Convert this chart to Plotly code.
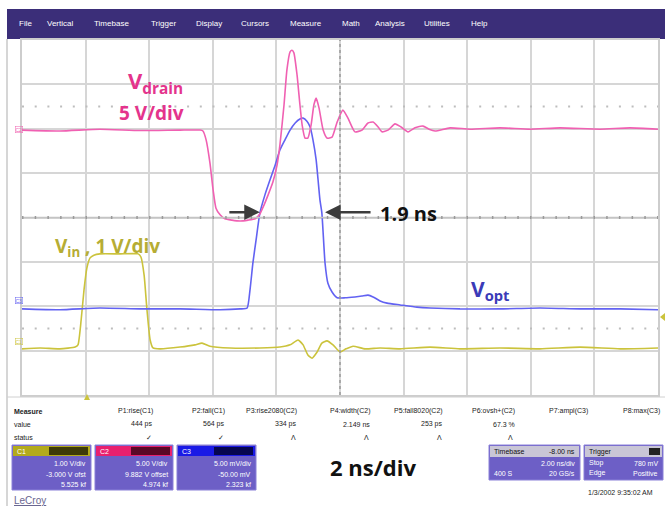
import plotly.graph_objects as go

# ---------------- data (time in ns, amplitude in screen divisions) ----------------
t_drain = [0.00, 1.19, 2.45, 3.71, 4.97, 5.60, 5.69, 5.79, 5.91, 6.01, 6.10, 6.23, 6.38, 6.60,
           6.86, 7.11, 7.33, 7.48, 7.61, 7.74, 7.89, 8.02, 8.11, 8.24, 8.33, 8.43, 8.49, 8.55,
           8.65, 8.74, 8.81, 8.90, 8.99, 9.09, 9.18, 9.25, 9.34, 9.47, 9.59, 9.75, 9.91, 10.09,
           10.25, 10.47, 10.69, 10.88, 11.04, 11.20, 11.32, 11.51, 11.73, 11.92, 12.14, 12.36,
           12.61, 12.80, 12.99, 13.46, 14.09, 15.03, 15.97, 16.92, 18.18, 19.12, 20.00]
v_drain = [5.97, 5.95, 5.99, 5.96, 5.97, 5.97, 5.95, 5.75, 5.23, 4.62, 4.21, 4.06, 3.97, 3.94,
           3.92, 3.94, 3.97, 4.08, 4.28, 4.51, 4.80, 5.18, 5.63, 6.54, 7.32, 7.73, 7.77, 7.71,
           7.21, 6.54, 6.08, 5.79, 5.79, 6.08, 6.54, 6.69, 6.47, 5.97, 5.79, 5.81, 6.15, 6.42,
           6.24, 5.93, 5.97, 6.13, 6.15, 6.04, 5.93, 5.97, 6.11, 6.04, 5.93, 6.02,
           6.06, 5.99, 5.95, 6.02, 5.99, 6.02, 5.99, 6.02, 5.99, 6.02, 5.99]

t_opt = [0.00, 1.19, 2.45, 3.71, 4.97, 6.23, 6.86, 7.08, 7.17, 7.26, 7.36, 7.48, 7.64, 7.80,
         7.96, 8.11, 8.27, 8.43, 8.59, 8.74, 8.84, 8.96, 9.06, 9.15, 9.25, 9.31, 9.37, 9.43,
         9.53, 9.62, 9.75, 9.91, 10.16, 10.47, 10.69, 10.88, 11.04, 11.26, 11.48, 11.89, 12.42,
         12.83, 13.77, 15.03, 16.29, 17.55, 18.81, 20.00]
v_opt = [1.94, 1.92, 1.96, 1.94, 1.94, 1.92, 1.94, 1.96, 2.37, 2.97, 3.49, 4.10, 4.51, 4.85,
         5.18, 5.52, 5.75, 5.97, 6.13, 6.22, 6.24, 6.17, 6.04, 5.75, 5.30, 4.85, 4.39, 4.10,
         2.97, 2.52, 2.32, 2.19, 2.19, 2.21, 2.23, 2.25, 2.21, 2.12, 2.07, 2.03, 1.98,
         1.96, 1.94, 1.94, 1.96, 1.94, 1.94, 1.92]

t_in = [0.00, 0.57, 1.19, 1.67, 1.76, 1.86, 1.95, 2.04, 2.14, 2.26, 2.45, 3.08, 3.65, 3.74,
        3.84, 3.93, 4.03, 4.12, 4.34, 4.97, 5.44, 5.66, 5.91, 6.54, 7.48, 8.11, 8.43, 8.68,
        8.84, 8.99, 9.12, 9.28, 9.43, 9.59, 9.78, 10.00, 10.19, 10.41, 10.79, 11.26, 11.89,
        12.83, 13.77, 15.03, 16.29, 17.55, 18.81, 20.00]
v_in = [1.04, 1.06, 1.04, 1.08, 1.13, 1.69, 2.37, 2.86, 3.09, 3.15, 3.18, 3.18, 3.18, 3.11,
        2.70, 1.92, 1.24, 1.06, 1.04, 1.08, 1.13, 1.17, 1.10, 1.06, 1.06, 1.08, 1.13, 1.24,
        1.13, 0.90, 0.83, 0.97, 1.17, 1.22, 1.13, 0.97, 1.04, 1.10, 1.04, 1.06, 1.04,
        1.08, 1.04, 1.06, 1.04, 1.08, 1.04, 1.06]

menu_items = ["File", "Vertical", "Timebase", "Trigger", "Display", "Cursors", "Measure",
              "Math", "Analysis", "Utilities", "Help"]
meas_names = ["P1:rise(C1)", "P2:fall(C1)", "P3:rise2080(C2)", "P4:width(C2)",
              "P5:fall8020(C2)", "P6:ovsh+(C2)", "P7:ampl(C3)", "P8:max(C3)"]
meas_values = ["444 ps", "564 ps", "334 ps", "2.149 ns", "253 ps", "67.3 %", "", ""]
meas_status = ["✓", "✓", "Ʌ", "Ʌ", "Ʌ", "Ʌ", "", ""]
ch_names = ["C1", "C2", "C3"]
ch_lines = [["1.00 V/div", "-3.000 V ofst", "5.525 kf"],
            ["5.00 V/div", "9.882 V offset", "4.974 kf"],
            ["5.00 mV/div", "-50.00 mV", "2.323 kf"]]

# ---------------- layout helpers ----------------
W, H = 665, 506
def px(x):
    return x / W
def py(y):
    return 1 - y / H

PINK = "#f060b2"
BLUE = "#6262f2"
YEL = "#cbc33c"

fig = go.Figure()
for t, v, c in [(t_in, v_in, YEL), (t_opt, v_opt, BLUE), (t_drain, v_drain, PINK)]:
    fig.add_trace(go.Scatter(x=t, y=v, mode="lines", hoverinfo="skip",
                             line=dict(color=c, width=1.6, shape="spline", smoothing=0.5)))

shapes = []
annos = []

# menu bar
shapes.append(dict(type="rect", xref="paper", yref="paper", x0=px(7), x1=px(665),
                   y0=py(39), y1=py(9), fillcolor="#3b2e79", line=dict(width=0), layer="below"))
menu_x = [17, 45, 92, 149, 194, 239, 288, 340, 373, 422, 469]
for name, x in zip(menu_items, menu_x):
    annos.append(dict(text=name, x=px(x), y=py(24), xref="paper", yref="paper",
                      xanchor="left", yanchor="middle", showarrow=False,
                      font=dict(family="Liberation Sans", size=8, color="white")))

# outer frame
shapes.append(dict(type="line", xref="paper", yref="paper", x0=px(7), x1=px(7),
                   y0=py(39), y1=py(506), line=dict(color="#c8c8c8", width=1.5)))
shapes.append(dict(type="line", xref="paper", yref="paper", x0=px(7), x1=px(665),
                   y0=py(397), y1=py(397), line=dict(color="#d0d0d0", width=1)))

# special grid lines
for yv in [6.5, 1.5]:
    shapes.append(dict(type="line", xref="x", yref="y", x0=0, x1=20, y0=yv, y1=yv,
                       line=dict(color="#bdbdbd", width=2, dash="2px,10.7px")))
shapes.append(dict(type="line", xref="x", yref="y", x0=0, x1=20, y0=4, y1=4,
                   line=dict(color="#c4c4c4", width=1.5)))
shapes.append(dict(type="line", xref="x", yref="y", x0=0, x1=20, y0=4, y1=4,
                   line=dict(color="#9a9a9a", width=3, dash="1.5px,11.2px")))
shapes.append(dict(type="line", xref="x", yref="y", x0=10, x1=10, y0=0, y1=8,
                   line=dict(color="#9a9a9a", width=1.5, dash="3px,3px")))

# trigger markers
shapes.append(dict(type="path", xref="paper", yref="paper",
                   path=f"M {px(84)} {py(400)} L {px(90)} {py(400)} L {px(87)} {py(394)} Z",
                   fillcolor=YEL, line=dict(width=0)))
shapes.append(dict(type="path", xref="paper", yref="paper",
                   path=f"M {px(665)} {py(313)} L {px(665)} {py(321)} L {px(660)} {py(317)} Z",
                   fillcolor=YEL, line=dict(width=0)))

# channel markers on left
for lab, yy, col in [("C2", 126, PINK), ("C3", 300, BLUE), ("C1", 345, YEL)]:
    annos.append(dict(text=lab, x=px(15), y=py(yy), xref="paper", yref="paper",
                      showarrow=False, font=dict(family="Liberation Sans", size=5, color=col),
                      bordercolor=col, borderwidth=0.5, borderpad=0))

# trace labels
lab_font = "Open Sans"
annos += [
    dict(text="<b>V<sub>drain</sub></b>", x=px(126), y=py(82), font=dict(size=22, color="#e4348c", family=lab_font)),
    dict(text="<b>5 V/div</b>", x=px(117), y=py(113), font=dict(size=19, color="#e4348c", family=lab_font)),
    dict(text="<b>V<sub>in</sub> , 1 V/div</b>", x=px(53), y=py(247), font=dict(size=19, color="#b6ad34", family=lab_font)),
    dict(text="<b>V<sub>opt</sub></b>", x=px(469), y=py(290), font=dict(size=21, color="#3b3bb8", family=lab_font)),
    dict(text="<b>1.9 ns</b>", x=px(378), y=py(213), font=dict(size=20, color="#111111", family=lab_font)),
    dict(text="<b>2 ns/div</b>", x=px(328), y=py(467), font=dict(size=22, color="#111111", family=lab_font)),
]
for a in annos[-6:]:
    a.update(xref="paper", yref="paper", xanchor="left", yanchor="middle", showarrow=False)

# arrows
annos.append(dict(x=7.48, y=4.12, xref="x", yref="y", ax=-32, ay=0, showarrow=True,
                  arrowhead=2, arrowsize=1.2, arrowwidth=2.6, arrowcolor="#3c3c3c", text=""))
annos.append(dict(x=9.53, y=4.12, xref="x", yref="y", ax=47, ay=0, showarrow=True,
                  arrowhead=2, arrowsize=1.2, arrowwidth=2.6, arrowcolor="#3c3c3c", text=""))

# measure table
small = dict(family="Liberation Sans", size=7, color="#222222")
for txt, yy, bold in [("Measure", 411, True), ("value", 424, False), ("status", 437, False)]:
    annos.append(dict(text=f"<b>{txt}</b>" if bold else txt, x=px(12), y=py(yy), xref="paper",
                      yref="paper", xanchor="left", yanchor="middle", showarrow=False, font=small))
col_right = [155, 227, 299, 372, 445, 517, 590, 662]
for name, val, st, xr in zip(meas_names, meas_values, meas_status, col_right):
    annos.append(dict(text=name, x=px(xr), y=py(411), xref="paper", yref="paper",
                      xanchor="right", yanchor="middle", showarrow=False, font=small))
    if val:
        annos.append(dict(text=val, x=px(xr), y=py(424), xref="paper", yref="paper",
                          xanchor="right", yanchor="middle", showarrow=False, font=small))
    if st:
        annos.append(dict(text=st, x=px(xr - 6), y=py(437), xref="paper", yref="paper",
                          xanchor="center", yanchor="middle", showarrow=False, font=small))

# channel boxes
BOX = "#6d5fc6"
box_x = [(12, 91), (95, 173), (177, 256)]
head_cols = [("#b3aa1c", "#3e3a08"), ("#e8206e", "#5a0826"), ("#1a1ae6", "#060650")]
wfont = dict(family="Liberation Sans", size=7, color="white")
for (x0, x1), (hc, dc), nm, lines in zip(box_x, head_cols, ch_names, ch_lines):
    shapes.append(dict(type="rect", xref="paper", yref="paper", x0=px(x0), x1=px(x1),
                       y0=py(490), y1=py(445), fillcolor=BOX, line=dict(color="#8a80d8", width=1)))
    shapes.append(dict(type="rect", xref="paper", yref="paper", x0=px(x0 + 1), x1=px(x1 - 1),
                       y0=py(456), y1=py(446), fillcolor=hc, line=dict(width=0)))
    shapes.append(dict(type="rect", xref="paper", yref="paper", x0=px(x1 - 42), x1=px(x1 - 3),
                       y0=py(455), y1=py(447), fillcolor=dc, line=dict(width=0)))
    annos.append(dict(text=nm, x=px(x0 + 3), y=py(451), xref="paper", yref="paper",
                      xanchor="left", yanchor="middle", showarrow=False, font=wfont))
    for ln, yy in zip(lines, [463, 474, 484]):
        annos.append(dict(text=ln, x=px(x1 - 3), y=py(yy), xref="paper", yref="paper",
                          xanchor="right", yanchor="middle", showarrow=False, font=wfont))

# timebase / trigger boxes
for (x0, x1), head_l, head_r, rows in [
        ((489, 580), "Timebase", "-8.00 ns", [("", "2.00 ns/div"), ("400 S", "20 GS/s")]),
        ((584, 663), "Trigger", "", [("Stop", "780 mV"), ("Edge", "Positive")])]:
    shapes.append(dict(type="rect", xref="paper", yref="paper", x0=px(x0), x1=px(x1),
                       y0=py(480), y1=py(445), fillcolor=BOX, line=dict(color="#8a80d8", width=1)))
    shapes.append(dict(type="rect", xref="paper", yref="paper", x0=px(x0 + 1), x1=px(x1 - 1),
                       y0=py(457), y1=py(446), fillcolor="#c9c6d6", line=dict(width=0)))
    annos.append(dict(text=head_l, x=px(x0 + 3), y=py(451.5), xref="paper", yref="paper",
                      xanchor="left", yanchor="middle", showarrow=False,
                      font=dict(family="Liberation Sans", size=7, color="#111111")))
    if head_r:
        annos.append(dict(text=head_r, x=px(x1 - 3), y=py(451.5), xref="paper", yref="paper",
                          xanchor="right", yanchor="middle", showarrow=False,
                          font=dict(family="Liberation Sans", size=7, color="#111111")))
    for (l, r), yy in zip(rows, [463, 473]):
        if l:
            annos.append(dict(text=l, x=px(x0 + 3), y=py(yy), xref="paper", yref="paper",
                              xanchor="left", yanchor="middle", showarrow=False, font=wfont))
        annos.append(dict(text=r, x=px(x1 - 3), y=py(yy), xref="paper", yref="paper",
                          xanchor="right", yanchor="middle", showarrow=False, font=wfont))
shapes.append(dict(type="rect", xref="paper", yref="paper", x0=px(649), x1=px(660),
                   y0=py(455), y1=py(448), fillcolor="#222222", line=dict(width=0)))

annos.append(dict(text="1/3/2002 9:35:02 AM", x=px(655), y=py(492), xref="paper", yref="paper",
                  xanchor="right", yanchor="middle", showarrow=False, font=small))
annos.append(dict(text="<u>LeCroy</u>", x=px(12), y=py(500), xref="paper", yref="paper",
                  xanchor="left", yanchor="middle", showarrow=False,
                  font=dict(family="Liberation Sans", size=10, color="#6a6690")))

fig.update_layout(
    width=W, height=H, margin=dict(l=0, r=0, t=0, b=0),
    paper_bgcolor="white", plot_bgcolor="white", showlegend=False,
    xaxis=dict(domain=[px(22), px(658)], range=[0, 20], dtick=2, tick0=0, showgrid=True,
               gridcolor="#d6d6d6", gridwidth=1.5, showticklabels=False, zeroline=False,
               showline=True, linecolor="#cdcdcd", linewidth=1.5, mirror=True, ticks=""),
    yaxis=dict(domain=[py(395), py(40)], range=[0, 8], dtick=1, tick0=0, showgrid=True,
               gridcolor="#d6d6d6", gridwidth=1.5, showticklabels=False, zeroline=False,
               showline=True, linecolor="#cdcdcd", linewidth=1.5, mirror=True, ticks=""),
    shapes=shapes, annotations=annos,
)

fig.write_html("out.html")
